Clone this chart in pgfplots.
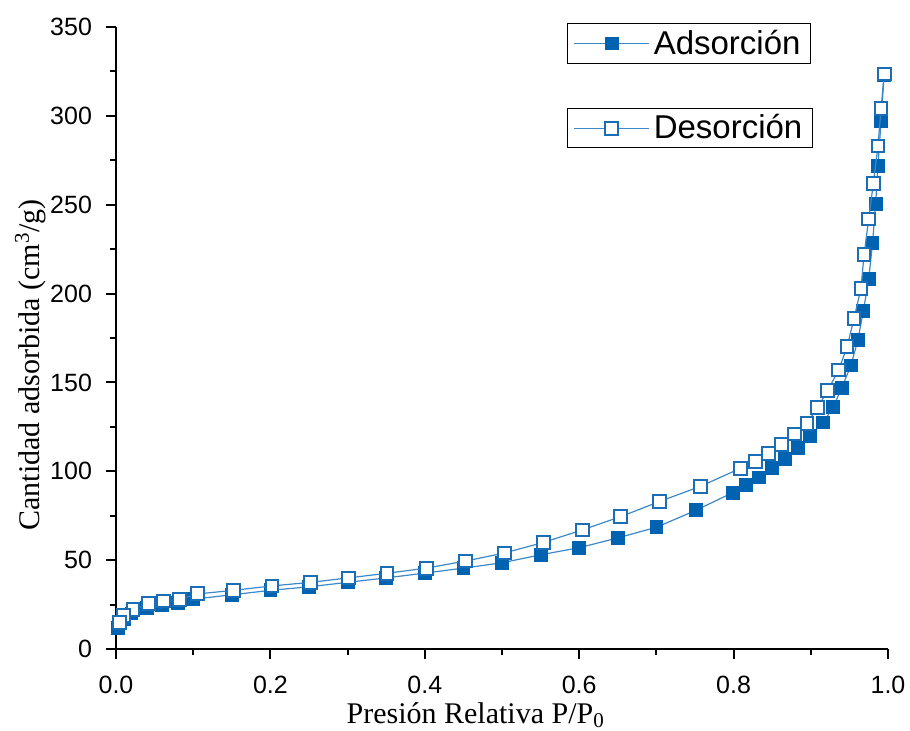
\documentclass[border=0pt]{standalone}
\usepackage{pgfplots}
\pgfplotsset{compat=1.18}
\usepackage{fontspec}
\setmainfont{Liberation Serif}
\newfontfamily\arial{Liberation Sans}
\definecolor{fillblue}{HTML}{0063B1}
\definecolor{lineblue}{HTML}{3C88C8}
\definecolor{edgeblue}{HTML}{1B6EB6}

\pgfplotsset{
  base/.style={
    width=386pt, height=311pt, scale only axis,
    xmin=0, xmax=1, ymin=0, ymax=350,
  },
  legbox/.style={
    legend style={draw=black, line width=0.6pt, fill=white,
      font=\arial\fontsize{16.5}{16.5}\selectfont,
      inner xsep=3pt, inner ysep=1pt, anchor=north west,
      legend cell align=left},
    legend image code/.code={
      \draw[##1, mark repeat=2, mark phase=2]
        plot coordinates {(0cm,0cm) (0.66cm,0cm) (1.32cm,0cm)};},
  },
}

\begin{document}
\begin{tikzpicture}
\begin{axis}[base, legbox, name=main,
    axis lines=left,
    axis line style={-, line width=1pt},
    tick style={line width=1pt, black},
    tick align=outside,
    major tick length=5pt, minor tick length=3pt,
    xtick={0,0.2,...,1.0}, minor x tick num=1,
    ytick={0,50,...,350}, minor y tick num=1,
    ticklabel style={font=\arial\fontsize{12.5}{12.5}\selectfont},
    /pgf/number format/assume math mode=true,
    xticklabel style={yshift=-5pt, /pgf/number format/.cd, fixed, fixed zerofill, precision=1},
    yticklabel style={xshift=-3.5pt, /pgf/number format/fixed},
    xlabel={Presión Relativa P/P\textsubscript{0}},
    ylabel={Cantidad adsorbida (cm\textsuperscript{3}/g)},
    label style={font=\fontsize{15}{15}\selectfont},
    xlabel style={at={(axis description cs:0.466,-0.106)}, anchor=center},
    ylabel style={at={(axis description cs:-0.111,0.457)}, anchor=center},
    legend style={at={(0.584,1.006)}},
  ]
\addplot[lineblue, line width=0.6pt, mark=square*, mark size=3.2pt,
  mark options={fill=fillblue, draw=fillblue, line width=0.5pt}]
  coordinates {
  (0.003,12) (0.01,17) (0.02,20) (0.04,23) (0.06,24.5) (0.08,26) (0.1,28)
  (0.15,30.5) (0.2,33) (0.25,35) (0.3,37.5) (0.35,40) (0.4,42.7) (0.45,45.5)
  (0.5,48.5) (0.55,53) (0.6,57) (0.65,62.5) (0.7,68.5) (0.751,78) (0.799,88)
  (0.816,92.5) (0.833,96.5) (0.85,101.7) (0.867,107) (0.883,113) (0.899,120)
  (0.916,127.5) (0.929,136) (0.94,147) (0.952,159.5) (0.961,174) (0.968,190)
  (0.975,208) (0.98,228.6) (0.984,250.6) (0.987,272) (0.991,297) (0.995,323)
  };
\addlegendentry{Adsorción}
\end{axis}

\begin{axis}[base, legbox, hide axis,
    legend style={at={(0.584,0.870)}},
  ]
\addplot[lineblue, line width=0.6pt, mark=square*, mark size=3.2pt,
  mark options={fill=white, draw=edgeblue, line width=1pt}]
  coordinates {
  (0.995,323.6) (0.991,304) (0.987,283) (0.981,262) (0.975,242) (0.969,222)
  (0.965,203) (0.956,186) (0.947,170) (0.936,157) (0.922,145.5) (0.909,136)
  (0.895,127) (0.879,121) (0.862,115) (0.845,110) (0.828,105.5) (0.809,101.7)
  (0.757,91.5) (0.704,83) (0.654,74.5) (0.604,67) (0.554,60) (0.503,54)
  (0.453,49.5) (0.402,45.5) (0.351,42.6) (0.301,40) (0.252,37.5) (0.202,35.5)
  (0.152,33) (0.106,31) (0.082,28) (0.062,27) (0.042,25.5) (0.022,22)
  (0.01,19) (0.005,15)
  };
\addlegendentry{Desorción}
\end{axis}
\pgfresetboundingbox
\path ([shift={(-58pt,-41pt)}]main.south west) rectangle ([shift={(11pt,13.5pt)}]main.north east);
\end{tikzpicture}
\end{document}
